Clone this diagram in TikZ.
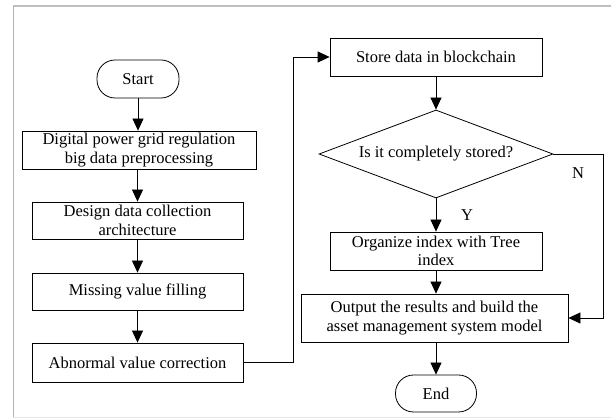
\documentclass[tikz,border=0pt]{standalone}
\usepackage{fontspec}
\setmainfont{Liberation Serif}
\usetikzlibrary{shapes.geometric,arrows.meta}
\begin{document}
\begin{tikzpicture}[x=1pt,y=-1pt,
  every node/.style={font=\fontsize{16.5}{18.5}\selectfont, inner sep=0pt, align=center},
  procbox/.style={draw, line width=0.8pt, rectangle},
  termbox/.style={draw, line width=0.8pt, rectangle, rounded corners=18pt},
  decbox/.style={draw, line width=0.8pt, diamond, aspect=2.66},
  arr/.style={line width=0.8pt, -{Triangle[length=12pt,width=11pt]}},
  plain/.style={line width=0.8pt}]
\useasboundingbox (0,0) rectangle (611,419);
% outer frame
\draw[line width=1.6pt, color=black!25] (13,6) -- (611,6);
\draw[line width=1pt, color=black!30] (13,6) -- (13,418);
\draw[line width=1pt, color=black!10] (13,418) -- (611,418);

% left column
\node[termbox, minimum width=82pt, minimum height=38pt] (start) at (138,79) {Start};
\node[procbox, minimum width=234pt, minimum height=38pt] (b1) at (139,150) {Digital power grid regulation\\big data preprocessing};
\node[procbox, minimum width=211pt, minimum height=37pt] (b2) at (137.5,220.5) {Design data collection\\architecture};
\node[procbox, minimum width=211pt, minimum height=37pt] (b3) at (137.5,291.5) {Missing value filling};
\node[procbox, minimum width=211pt, minimum height=39pt] (b4) at (137.5,362.5) {Abnormal value correction};

% right column
\node[procbox, minimum width=212pt, minimum height=38pt] (store) at (436,57) {Store data in blockchain};
\node[decbox, minimum width=234pt, minimum height=88pt] (dec) at (436,154) {Is it completely stored?};
\node[procbox, minimum width=212pt, minimum height=38pt] (org) at (436,251) {Organize index with Tree\\index};
\node[procbox, minimum width=267pt, minimum height=48pt] (out) at (434.5,318) {Output the results and build the\\asset management system model};
\node[termbox, minimum width=81pt, minimum height=37pt] (end) at (436,393.5) {End};

\coordinate (loopx) at (293,0);
\coordinate (nx) at (603,0);

% connectors
\draw[arr] (start.south) -- (start.south |- b1.north);
\draw[arr] (b1.south -| b2.north) -- (b2.north);
\draw[arr] (b2) -- (b3);
\draw[arr] (b3) -- (b4);
\draw[arr] (b4.east) -- (b4.east -| loopx) |- (store.west);
\draw[arr] (store) -- (dec);
\draw[arr] (dec.south) -- (org.north);
\draw[plain] (dec.east) -- (dec.east -| nx);
\draw[arr] (dec.east -| nx) |- (out.east);
\draw[arr] (org.south) -- (org.south |- out.north);
\draw[arr] (out.south -| end.north) -- (end.north);

% branch labels
\node (ylab) at (467,215) {Y};
\node (nlab) at (578,173) {N};
\end{tikzpicture}
\end{document}
